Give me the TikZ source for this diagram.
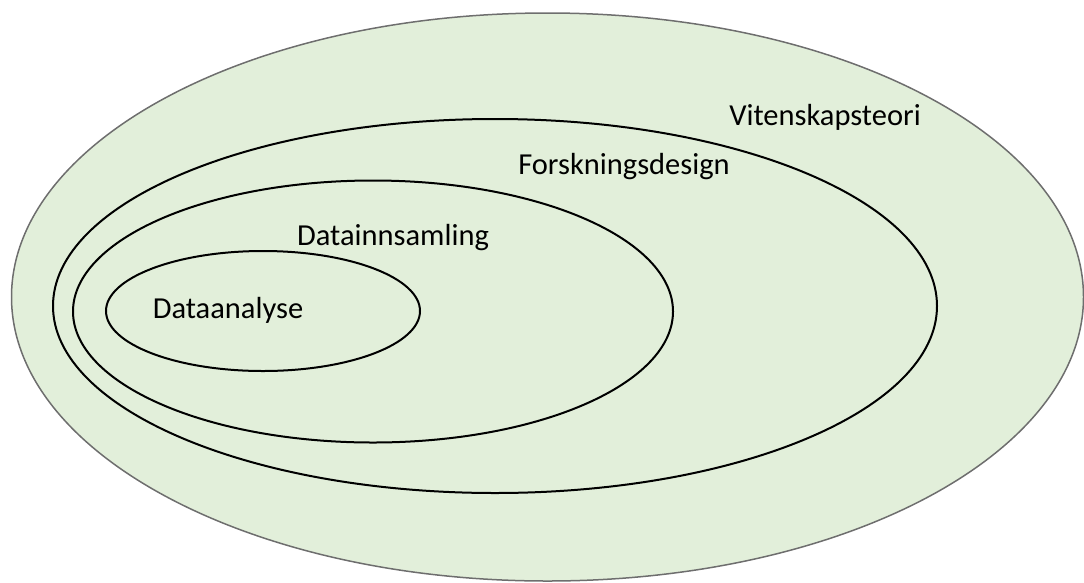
\documentclass[tikz,border=0pt]{standalone}
\usepackage{fontspec}
\setmainfont{Carlito}
\usetikzlibrary{shapes.geometric}
\definecolor{fillgreen}{HTML}{E2EFDA}
\definecolor{rimgray}{HTML}{6E6E6E}
\tikzset{
  ring/.style={ellipse, draw=black, line width=2pt, inner sep=0pt},
  label/.style={inner sep=0pt, font=\fontsize{30.5}{36}\selectfont}
}
\begin{document}
\begin{tikzpicture}[x=1pt,y=-1pt]
  \useasboundingbox (0,0) rectangle (1084,582);
  % nested scopes of research
  \node[ellipse, draw=rimgray, fill=fillgreen, line width=1.5pt, inner sep=0pt,
        minimum width=1072pt, minimum height=568pt] (vit) at (547.5,297) {};
  \node[ring, minimum width=884pt, minimum height=374pt] (fors) at (495,306) {};
  \node[ring, minimum width=600pt, minimum height=262pt] (data) at (373,311.5) {};
  \node[ring, minimum width=314pt, minimum height=120pt] (ana) at (263,311) {};
  % labels
  \node[label] (tvit) at (825,117) {Vitenskapsteori};
  \node[label] (tfors) at (624,167) {Forskningsdesign};
  \node[label] (tdata) at (393,238) {Datainnsamling};
  \node[label] (tana) at (228,310) {Dataanalyse};
\end{tikzpicture}
\end{document}
